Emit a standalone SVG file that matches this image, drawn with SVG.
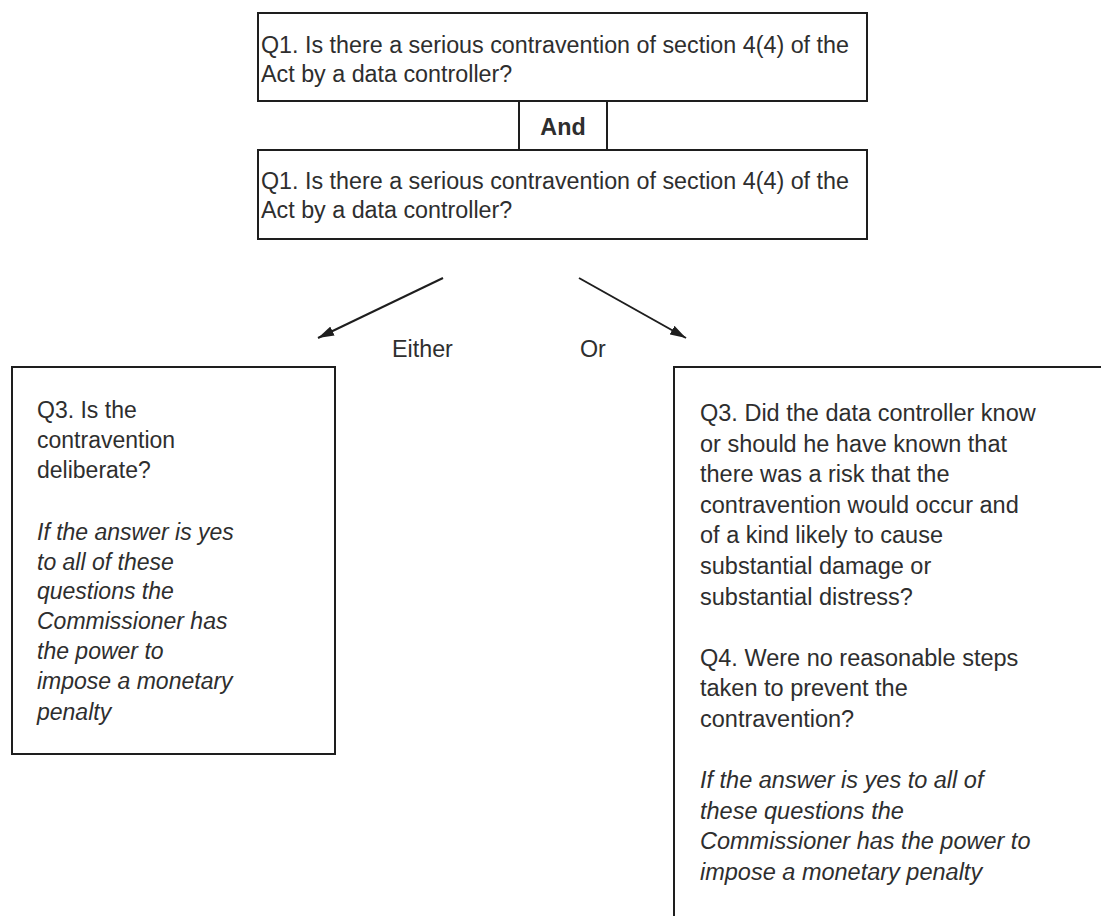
<svg xmlns="http://www.w3.org/2000/svg" width="1101" height="916" viewBox="0 0 1101 916">
<style>
.box{fill:#fff;stroke:#1e1e1e;stroke-width:2}
.t{font-family:"Liberation Sans",Arial,sans-serif;fill:#2e2e2e;font-size:23.3px}
.l{font-size:23px}
.r{font-size:23.5px}
.i{font-style:italic}
.bold{font-weight:bold}
.conn{stroke:#1e1e1e;stroke-width:2;fill:none}
</style>
<defs>
<marker id="ah" markerWidth="16" markerHeight="10" refX="16" refY="5" orient="auto" markerUnits="userSpaceOnUse" viewBox="0 0 16 10">
<path d="M0,0 L16,5 L0,10 Z" fill="#1e1e1e"/>
</marker>
</defs>
<rect width="1101" height="916" fill="#fff"/>
<g id="q1a">
<rect class="box" x="258" y="13" width="609" height="88"/>
<text class="t" x="261" y="53">Q1. Is there a serious contravention of section 4(4) of the</text>
<text class="t" x="261" y="82">Act by a data controller?</text>
</g>
<g id="and">
<rect class="box" x="519" y="101" width="88" height="49"/>
<text class="t bold" x="563" y="135" text-anchor="middle">And</text>
</g>
<g id="q1b">
<rect class="box" x="258" y="150" width="609" height="89"/>
<text class="t" x="261" y="189">Q1. Is there a serious contravention of section 4(4) of the</text>
<text class="t" x="261" y="218">Act by a data controller?</text>
</g>
<g id="connectors">
<line class="conn" x1="443" y1="278" x2="318" y2="338" marker-end="url(#ah)"/>
<line class="conn" x1="579" y1="278" x2="686" y2="338" marker-end="url(#ah)"/>
<text class="t" x="392" y="357">Either</text>
<text class="t" x="580" y="357">Or</text>
</g>
<g id="left">
<rect class="box" x="12" y="367" width="323" height="387"/>
<text class="t l" x="37" y="418">Q3. Is the</text>
<text class="t l" x="37" y="448">contravention</text>
<text class="t l" x="37" y="478">deliberate?</text>
<text class="t l i" x="37" y="540">If the answer is yes</text>
<text class="t l i" x="37" y="570">to all of these</text>
<text class="t l i" x="37" y="599">questions the</text>
<text class="t l i" x="37" y="629">Commissioner has</text>
<text class="t l i" x="37" y="659">the power to</text>
<text class="t l i" x="37" y="689">impose a monetary</text>
<text class="t l i" x="37" y="720">penalty</text>
</g>
<g id="right">
<rect class="box" x="674" y="367" width="440" height="600"/>
<text class="t r" x="700" y="421">Q3. Did the data controller know</text>
<text class="t r" x="700" y="451.6">or should he have known that</text>
<text class="t r" x="700" y="482.2">there was a risk that the</text>
<text class="t r" x="700" y="512.8">contravention would occur and</text>
<text class="t r" x="700" y="543.4">of a kind likely to cause</text>
<text class="t r" x="700" y="574">substantial damage or</text>
<text class="t r" x="700" y="604.6">substantial distress?</text>
<text class="t r" x="700" y="665.8">Q4. Were no reasonable steps</text>
<text class="t r" x="700" y="696.4">taken to prevent the</text>
<text class="t r" x="700" y="727">contravention?</text>
<text class="t r i" x="700" y="788.2">If the answer is yes to all of</text>
<text class="t r i" x="700" y="818.8">these questions the</text>
<text class="t r i" x="700" y="849.4">Commissioner has the power to</text>
<text class="t r i" x="700" y="880">impose a monetary penalty</text>
</g>
</svg>
